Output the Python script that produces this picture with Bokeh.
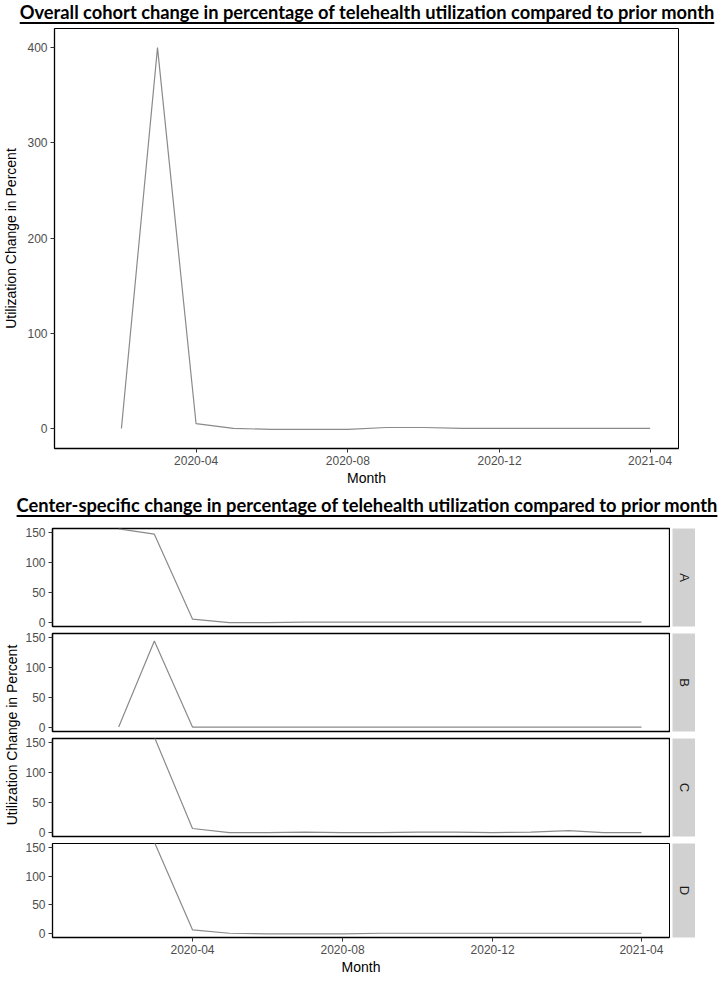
import numpy as np
import pandas as pd
from bokeh.plotting import figure
from bokeh.models import Range1d, FixedTicker, DatetimeTickFormatter, Div
from bokeh.layouts import column, row
from bokeh.embed import file_html
from bokeh.resources import INLINE
from bokeh.core.properties import value

# ---------------- data ----------------
months = ["2020-01", "2020-02", "2020-03", "2020-04", "2020-05", "2020-06", "2020-07", "2020-08",
          "2020-09", "2020-10", "2020-11", "2020-12", "2021-01", "2021-02", "2021-03", "2021-04"]
nan = float("nan")
overall = [nan, 0, 400, 5, 0, -1, -1, -1, 1, 1, 0, 0, 0, 0, 0, 0]
center_A = [nan, 157, 148, 5, -1, -1, 0, 0, 0, 0, 0, 0, 0, 0, 0, 0]
center_B = [nan, 0, 145, 0, 0, 0, 0, 0, 0, 0, 0, 0, 0, 0, 0, 0]
center_C = [nan, nan, 160, 6, -1, -1, 0, -1, -1, 0, 0, -1, 0, 2.5, -1, -1]
center_D = [nan, nan, 160, 6, 0, -1, -1, -1, 0, 0, 0, 0, 0, 0, 0, 0]
centers = ["A", "B", "C", "D"]
center_values = [center_A, center_B, center_C, center_D]
x_tick_labels = ["2020-04", "2020-08", "2020-12", "2021-04"]
overall_y_ticks = [0, 100, 200, 300, 400]
facet_y_ticks = [0, 50, 100, 150]
facet_ylim = [0, 150]

title_top = "Overall cohort change in percentage of telehealth utilization compared to prior month"
title_bottom = "Center-specific change in percentage of telehealth utilization compared to prior month"
y_label = "Utilization Change in Percent"
x_label = "Month"

# ---------------- helpers ----------------
def to_ms(strs):
    return pd.to_datetime(strs).values.astype("datetime64[ms]").astype("int64").astype(float)

x_ms = to_ms(months)
tick_ms = list(to_ms(x_tick_labels))
pad = (x_ms.max() - x_ms.min()) * 0.05
x_start, x_end = x_ms.min() - pad, x_ms.max() + pad

LINE_COLOR = "#8a8a8a"
TICK_FONT = "Liberation Sans"
TICK_COLOR = "#4d4d4d"
fmt = DatetimeTickFormatter(days="%Y-%m", months="%Y-%m", years="%Y-%m", hours="%Y-%m",
                            hourmin="%Y-%m", minutes="%Y-%m", minsec="%Y-%m", seconds="%Y-%m",
                            milliseconds="%Y-%m", microseconds="%Y-%m", context=None)


def style_axis(ax):
    ax.axis_line_color = "black"
    ax.axis_line_width = 1.3
    ax.major_tick_line_color = "#333333"
    ax.major_tick_in = 0
    ax.major_tick_out = 4
    ax.minor_tick_line_color = None
    ax.major_label_text_font = TICK_FONT
    ax.major_label_text_font_size = "12px"
    ax.major_label_text_color = TICK_COLOR
    ax.major_label_standoff = 3
    ax.axis_label_text_font = TICK_FONT
    ax.axis_label_text_font_size = "14px"
    ax.axis_label_text_font_style = "normal"
    ax.axis_label_text_color = "black"


def title_div(text, height, line_h):
    return Div(text='<span style="position: relative; left: 12px; text-decoration: underline; '
                    'text-decoration-thickness: 2px; text-underline-offset: 3px;">' + text + '</span>',
               width=710, height=height,
               styles={"font-family": "Lato", "font-size": "18.3px", "font-weight": "bold",
                       "text-align": "center", "color": "black", "line-height": line_h},
               margin=(0, 0, 0, 0))

# ---------------- top panel ----------------
ov = np.array(overall, dtype=float)
ymin, ymax = np.nanmin(ov), np.nanmax(ov)
ypad = (ymax - ymin) * 0.05

p_top = figure(width=708, height=464, x_axis_type="datetime",
               x_range=Range1d(x_start, x_end), y_range=Range1d(ymin - ypad, ymax + ypad),
               output_backend="svg", toolbar_location=None,
               min_border_left=50, min_border_right=30, min_border_top=4, min_border_bottom=38)
p_top.line(x=x_ms, y=ov, line_color=LINE_COLOR, line_width=1.2)
p_top.xgrid.visible = False
p_top.ygrid.visible = False
p_top.outline_line_color = "black"
p_top.outline_line_width = 1
p_top.xaxis.ticker = FixedTicker(ticks=tick_ms)
p_top.xaxis.formatter = fmt
p_top.yaxis.ticker = FixedTicker(ticks=overall_y_ticks)
p_top.xaxis.axis_label = x_label
p_top.yaxis.axis_label = y_label
style_axis(p_top.xaxis[0])
style_axis(p_top.yaxis[0])
p_top.xaxis.axis_label_standoff = 2
p_top.yaxis.axis_label_standoff = 5

# ---------------- facets ----------------
fy_pad = (facet_ylim[1] - facet_ylim[0]) * 0.05
facet_rows = []
n = len(centers)
FRAME_H = 98
for i, (name, vals) in enumerate(zip(centers, center_values)):
    last = (i == n - 1)
    top_b = 10 if i == 0 else 4
    bot_b = 36 if last else 3
    h = top_b + FRAME_H + bot_b
    p = figure(width=648, height=h, x_axis_type="datetime",
               x_range=Range1d(x_start, x_end),
               y_range=Range1d(facet_ylim[0] - fy_pad, facet_ylim[1] + fy_pad),
               output_backend="svg", toolbar_location=None,
               min_border_left=28, min_border_right=1, min_border_top=top_b, min_border_bottom=bot_b)
    p.line(x=x_ms, y=np.array(vals, dtype=float), line_color=LINE_COLOR, line_width=1.2)
    p.xgrid.visible = False
    p.ygrid.visible = False
    p.outline_line_color = "black"
    p.outline_line_width = 1
    p.yaxis.ticker = FixedTicker(ticks=facet_y_ticks)
    style_axis(p.yaxis[0])
    if last:
        p.xaxis.ticker = FixedTicker(ticks=tick_ms)
        p.xaxis.formatter = fmt
        style_axis(p.xaxis[0])
        p.xaxis.axis_label = x_label
        p.xaxis.axis_label_standoff = 2
    else:
        p.xaxis.visible = False
        p.outline_line_width = 1.3

    s = figure(width=25, height=h, x_range=Range1d(0, 1), y_range=Range1d(0, 1),
               output_backend="svg", toolbar_location=None,
               min_border_left=2, min_border_right=0, min_border_top=top_b, min_border_bottom=bot_b,
               x_axis_location=None, y_axis_location=None)
    s.xgrid.visible = False
    s.ygrid.visible = False
    s.outline_line_color = None
    s.background_fill_color = "#d1d1d1"
    s.text(x=[0.5], y=[0.5], text=[name], angle=-np.pi / 2, text_align="center",
           text_baseline="middle", text_font=value(TICK_FONT), text_font_size="13px",
           text_color="#1a1a1a")
    facet_rows.append(row(p, s))

facet_col = column(*facet_rows)
total_h = sum(r.children[0].height for r in facet_rows)

lab = figure(width=22, height=total_h, x_range=Range1d(0, 1), y_range=Range1d(0, 1),
             output_backend="svg", toolbar_location=None,
             min_border_left=0, min_border_right=0, min_border_top=10, min_border_bottom=36,
             x_axis_location=None, y_axis_location=None)
lab.xgrid.visible = False
lab.ygrid.visible = False
lab.outline_line_color = None
lab.text(x=[0.5], y=[0.5], text=[y_label], angle=np.pi / 2, text_align="center",
         text_baseline="middle", text_font=value(TICK_FONT), text_font_size="14px",
         text_color="black")

layout = column(title_div(title_top, 24, "24px"), p_top,
                title_div(title_bottom, 30, "34px"), row(lab, facet_col))

open("out.html", "w").write(file_html(layout, INLINE))
